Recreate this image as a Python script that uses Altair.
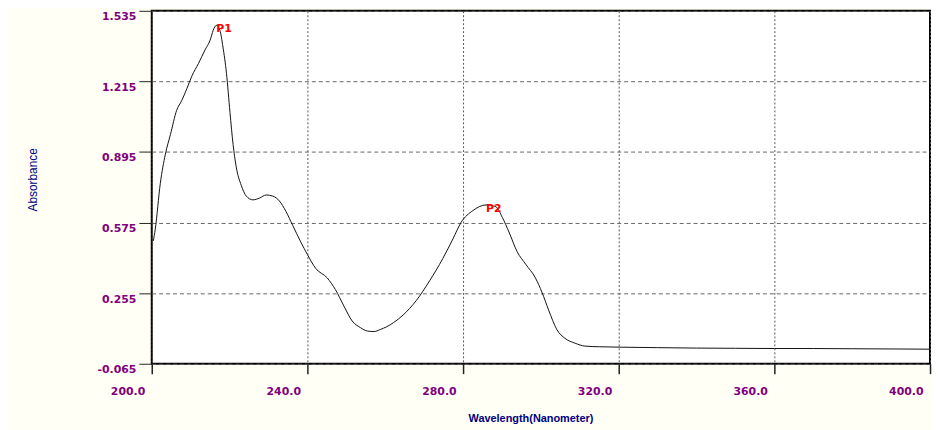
import altair as alt
import pandas as pd

wavelength = [200.4, 200.9, 202.2, 203.5, 204.8, 206.4, 207.7, 209.0, 210.3, 212.0,
              213.7, 215.0, 215.8, 216.6, 217.5, 218.3, 219.2, 220.1, 220.9, 221.7,
              223.0, 224.3, 226.0, 227.7, 229.4, 231.1, 232.8, 234.5, 236.2, 238.3,
              240.0, 242.1, 245.1, 247.2, 249.4, 251.5, 253.6, 255.5, 257.1, 258.7,
              260.4, 262.1, 264.6, 268.0, 271.4, 274.8, 277.4, 279.5, 282.5, 285.9,
              288.4, 290.1, 291.8, 293.9, 296.1, 298.6, 300.3, 302.0, 304.1, 306.2,
              308.8, 311.3, 315.0, 320.8, 330, 340, 350, 360, 370, 380,
              390, 400]
absorbance = [0.492, 0.545, 0.753, 0.885, 0.974, 1.084, 1.128, 1.181, 1.239, 1.296,
              1.358, 1.402, 1.447, 1.469, 1.447, 1.371, 1.252, 1.075, 0.929, 0.828,
              0.744, 0.695, 0.678, 0.686, 0.700, 0.695, 0.673, 0.625, 0.563, 0.487,
              0.430, 0.368, 0.324, 0.271, 0.196, 0.129, 0.099, 0.083, 0.081, 0.090,
              0.103, 0.121, 0.156, 0.222, 0.311, 0.412, 0.501, 0.576, 0.629, 0.655,
              0.647, 0.598, 0.532, 0.443, 0.386, 0.324, 0.258, 0.178, 0.090, 0.050,
              0.028, 0.015, 0.012, 0.010, 0.008, 0.006, 0.005, 0.004, 0.004, 0.003,
              0.002, 0.001]

peak_names = ["P1", "P2"]
peak_wl = [216.6, 285.9]
peak_abs = [1.469, 0.655]

x_ticks = [200, 240, 280, 320, 360, 400]
y_ticks = [-0.065, 0.255, 0.575, 0.895, 1.215, 1.535]

df = pd.DataFrame({"wl": wavelength, "abs": absorbance})
pk = pd.DataFrame({"wl": peak_wl, "abs": peak_abs, "name": peak_names})

xs = alt.Scale(domain=[200, 400], nice=False, zero=False)
ys = alt.Scale(domain=[-0.065, 1.535], nice=False, zero=False)

x_axis = alt.Axis(values=x_ticks, format=".1f", title="Wavelength(Nanometer)",
                  grid=True, gridDash=[2, 2], gridColor="#555555", gridOpacity=1,
                  domain=False, tickSize=10, tickColor="#222222", tickWidth=1.5,
                  labelAlign="right", labelOffset=-7, labelPadding=12,
                  labelFont="DejaVu Sans", labelFontWeight="bold", labelFontSize=11,
                  labelColor="#800080",
                  titleFont="Liberation Sans", titleFontWeight="bold", titleFontSize=11,
                  titleColor="#000080", titleX=382, titleY=49, titleBaseline="top",
                  titleAnchor="middle", titleAlign="center")

y_axis = alt.Axis(values=y_ticks, title="Absorbance",
                  labelExpr="replace(format(datum.value, '.3f'), '\u2212', '-')",
                  grid=True, gridDash=[4, 3], gridColor="#666666", gridOpacity=1,
                  domain=False, tickSize=13, tickColor="#222222", tickWidth=1,
                  labelBaseline="top", labelPadding=3,
                  labelFont="DejaVu Sans", labelFontWeight="bold", labelFontSize=11,
                  labelColor="#800080",
                  titleFont="Liberation Sans", titleFontWeight="normal", titleFontSize=12,
                  titleColor="#000080", titleX=-113, titleY=170, titleAngle=-90,
                  titleAlign="center", titleBaseline="bottom")

line = alt.Chart(df).mark_line(color="#111111", strokeWidth=1, interpolate="monotone").encode(
    x=alt.X("wl:Q", scale=xs, axis=x_axis),
    y=alt.Y("abs:Q", scale=ys, axis=y_axis),
)

labels = alt.Chart(pk).mark_text(color="#FF0000", font="DejaVu Sans", fontWeight="bold",
                                 fontSize=11, align="left", baseline="top", dx=0, dy=-2).encode(
    x=alt.X("wl:Q", scale=xs),
    y=alt.Y("abs:Q", scale=ys),
    text="name:N",
)

chart = (line + labels).properties(
    width=785, height=356,
    padding={"left": 145, "top": 1, "right": 2, "bottom": 65},
    autosize=alt.AutoSizeParams(type="none"),
    background="#FFFFF5",
).configure_view(stroke="black", strokeWidth=2, fill="white")

chart.save("out.html", embed_options={"renderer": "svg", "actions": False})
